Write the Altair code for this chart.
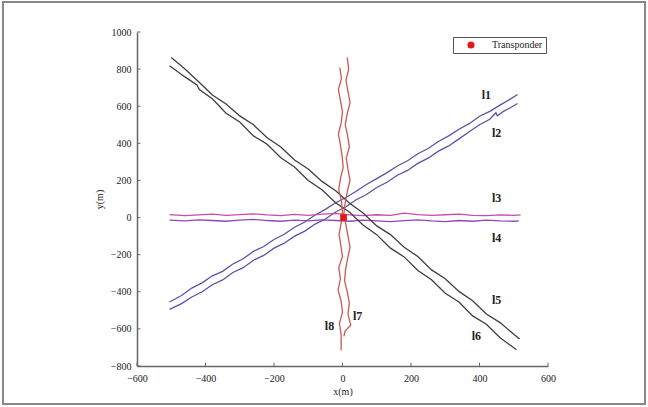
import altair as alt
import pandas as pd

x_ticks = [-600, -400, -200, 0, 200, 400, 600]
y_ticks = [-800, -600, -400, -200, 0, 200, 400, 600, 800, 1000]

l1_x = [-505,-470,-440,-410,-380,-350,-320,-290,-260,-230,-200,-170,-140,-110,-80,-50,-20,10,40,70,100,130,160,190,220,250,280,310,340,370,400,430,460,490,511]
l1_y = [-455,-420,-380,-352,-314,-290,-250,-222,-182,-156,-118,-90,-52,-24,14,44,80,108,142,178,210,242,278,306,344,372,410,440,476,506,546,572,606,638,663]

l2_x = [-505,-470,-440,-410,-380,-350,-320,-290,-260,-230,-200,-170,-140,-110,-80,-50,-20,10,40,70,100,130,160,190,220,250,280,310,340,370,400,430,448,452,470,490,511]
l2_y = [-495,-464,-428,-400,-362,-336,-296,-270,-230,-204,-165,-138,-100,-73,-35,-8,30,58,96,124,162,190,228,254,292,320,358,386,424,462,500,530,565,548,572,592,615]

l3_x = [-505,-460,-420,-380,-340,-300,-260,-220,-180,-140,-100,-60,-20,20,60,100,140,180,220,260,300,340,380,420,460,500,520]
l3_y = [16,10,14,18,12,16,20,14,10,17,12,18,22,14,10,15,12,24,16,12,15,18,12,10,14,12,14]

l4_x = [-505,-460,-420,-380,-340,-300,-260,-220,-180,-140,-100,-60,-20,20,60,100,140,180,220,260,300,340,380,420,460,500,515]
l4_y = [-14,-18,-12,-16,-20,-14,-10,-16,-20,-14,-18,-12,-16,-20,-14,-18,-22,-16,-12,-18,-22,-16,-20,-14,-18,-20,-18]

l5_x = [-500,-460,-420,-380,-340,-300,-260,-220,-180,-140,-100,-60,-20,20,60,100,140,180,220,260,300,340,380,420,460,517]
l5_y = [862,800,732,660,612,548,500,430,380,310,262,195,145,78,25,-45,-92,-160,-210,-282,-330,-398,-448,-520,-566,-655]

l6_x = [-505,-460,-425,-418,-380,-340,-300,-260,-220,-180,-140,-100,-60,-20,20,60,100,140,180,220,260,300,340,380,420,460,508]
l6_y = [818,758,715,690,640,562,515,440,395,322,272,200,150,80,30,-40,-92,-165,-212,-285,-335,-408,-455,-530,-575,-648,-712]

l7_x = [14,18,10,16,22,14,8,15,20,11,16,22,14,8,4,10,16,22,15,9,6,14,20,16,24,8,4]
l7_y = [862,800,740,680,620,560,500,440,380,320,260,200,140,80,20,-40,-100,-160,-220,-280,-340,-400,-460,-520,-580,-610,-640]

l8_x = [-8,-3,-12,-6,0,-4,-12,-6,-1,2,-6,-11,-3,0,-4,-10,-5,0,-11,-6,-13,-4,0,-9,-4,-4]
l8_y = [808,750,690,630,570,510,450,390,330,270,210,150,90,30,-30,-90,-150,-210,-270,-330,-390,-450,-510,-570,-630,-715]

line_names = ["l1", "l2", "l3", "l4", "l5", "l6", "l7", "l8"]
line_colors = ["#5a52aa", "#5a52aa", "#cc4aa8", "#8c4ab4", "#3e3e3e", "#3e3e3e", "#cc5a52", "#cc5a52"]

label_x = [420, 450, 450, 450, 450, 391, 44, -38]
label_y = [663, 458, 108, -108, -447, -636, -528, -582]

transponder_x = [3]
transponder_y = [0]

series = {
    "l1": (l1_x, l1_y), "l2": (l2_x, l2_y), "l3": (l3_x, l3_y), "l4": (l4_x, l4_y),
    "l5": (l5_x, l5_y), "l6": (l6_x, l6_y), "l7": (l7_x, l7_y), "l8": (l8_x, l8_y),
}
rows = []
for name, (xs_, ys_) in series.items():
    for i, (a, b) in enumerate(zip(xs_, ys_)):
        rows.append({"line": name, "x": a, "y": b, "i": i})
df = pd.DataFrame(rows)

df_labels = pd.DataFrame({"name": line_names, "x": label_x, "y": label_y})
df_tr = pd.DataFrame({"x": transponder_x, "y": transponder_y, "name": ["Transponder"]})
df_xt = pd.DataFrame({"x": x_ticks})
df_yt = pd.DataFrame({"y": y_ticks})

FONT = "Liberation Serif"
xs = alt.Scale(domain=[-600, 600], nice=False, zero=False)
ys = alt.Scale(domain=[-800, 1000], nice=False, zero=False)

X_AX = alt.Axis(values=x_ticks, title="x(m)", labelPadding=7, titlePadding=3, tickCount=7, format="d")
Y_AX = alt.Axis(values=y_ticks, title="y(m)", labelPadding=6, titlePadding=6, tickCount=10, format="d")

lines = alt.Chart(df).mark_line(strokeWidth=1.3).encode(
    x=alt.X("x:Q", scale=xs, axis=X_AX),
    y=alt.Y("y:Q", scale=ys, axis=Y_AX),
    color=alt.Color("line:N", scale=alt.Scale(domain=line_names, range=line_colors), legend=None),
    order=alt.Order("i:Q"),
)

xticks = alt.Chart(df_xt).mark_rule(color="#666666", strokeWidth=1).encode(
    x=alt.X("x:Q", scale=xs, axis=X_AX), y=alt.datum(-800), y2=alt.datum(-782)
)
yticks = alt.Chart(df_yt).mark_rule(color="#666666", strokeWidth=1).encode(
    y=alt.Y("y:Q", scale=ys, axis=Y_AX), x=alt.datum(-600), x2=alt.datum(-590)
)

labels = alt.Chart(df_labels).mark_text(font=FONT, fontSize=12, fontWeight="bold", color="#222222").encode(
    x=alt.X("x:Q", scale=xs, axis=X_AX), y=alt.Y("y:Q", scale=ys, axis=Y_AX), text="name:N"
)

tr = alt.Chart(df_tr).mark_point(filled=True, shape="square", size=45, opacity=1).encode(
    x=alt.X("x:Q", scale=xs, axis=X_AX), y=alt.Y("y:Q", scale=ys, axis=Y_AX),
    color=alt.Color("name:N", scale=alt.Scale(domain=["Transponder"], range=["#e01818"]),
                    legend=alt.Legend(orient="none", legendX=316, legendY=5, title=None,
                                      symbolType="circle", symbolSize=50, strokeColor="#555555",
                                      padding=3, labelFont=FONT, labelFontSize=10, labelColor="#222222",
                                      labelOffset=16, symbolOffset=10, fillColor="white")),
)

frame = alt.Chart(df_xt).mark_rect(fillOpacity=0, stroke="#888888", strokeWidth=1.5).encode(
    x=alt.value(-134), x2=alt.value(508), y=alt.value(-30), y2=alt.value(372)
)

chart = alt.layer(frame, lines, xticks, yticks, labels, tr).resolve_scale(
    color="independent"
).properties(
    width=411, height=334,
    autosize=alt.AutoSizeParams(type="none"),
    padding={"left": 137, "top": 32, "right": 100, "bottom": 41},
    background="white",
).configure_view(stroke=None).configure_axis(
    domainColor="#666666", domainWidth=1.5, ticks=False, grid=False,
    labelOverlap=False, labelFlush=False, labelSeparation=0,
    labelFont=FONT, labelFontSize=10, labelColor="#222222",
    titleFont=FONT, titleFontSize=10, titleFontWeight="normal", titleColor="#222222",
)

chart.save("out.html", embed_options={"renderer": "svg", "actions": False})
